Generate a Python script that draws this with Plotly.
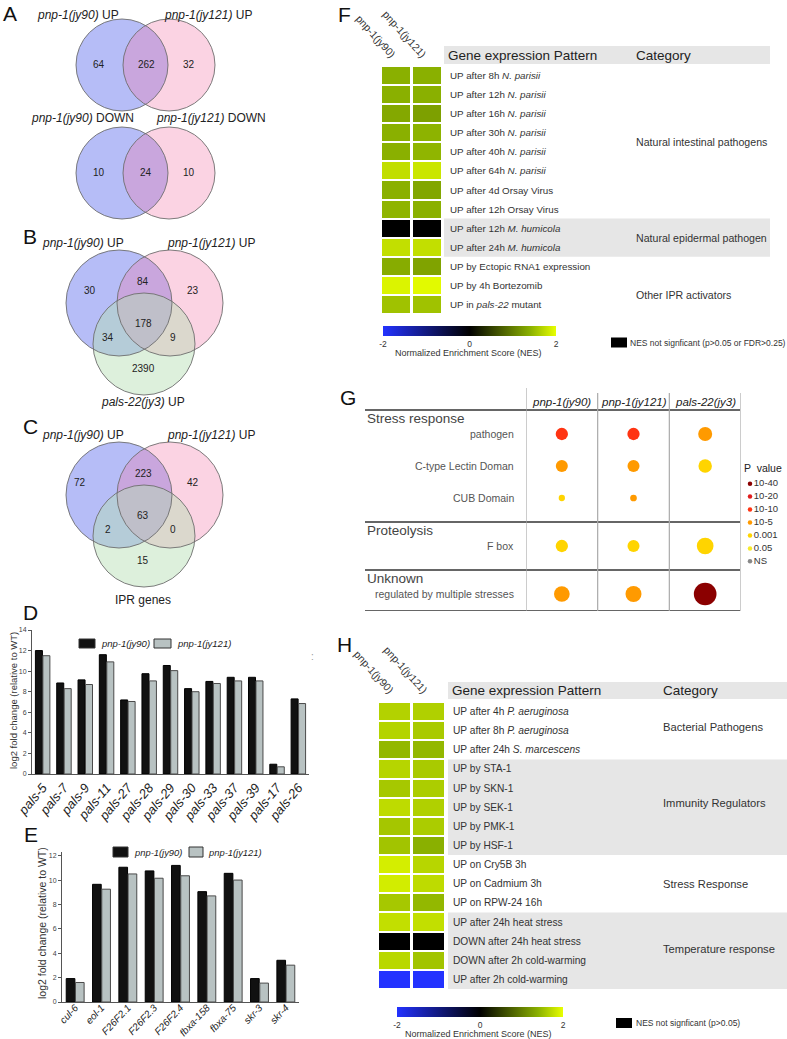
import plotly.graph_objects as go

W, H = 787, 1039
def X(px): return px / W
def Y(py): return 1 - py / H

FONT = "Liberation Sans, Arial, Helvetica, sans-serif"

# ------------------------------------------------------------------ DATA
VENN_A_UP = [64, 262, 32]              # jy90 only, both, jy121 only
VENN_A_DOWN = [10, 24, 10]
# order: jy90 only, jy90&jy121, jy121 only, all three, jy90&third, jy121&third, third only
VENN_B = [30, 84, 23, 178, 34, 9, 2390]
VENN_C = [72, 223, 42, 63, 2, 0, 15]

D_GENES = ["pals-5", "pals-7", "pals-9", "pals-11", "pals-27", "pals-28", "pals-29",
           "pals-30", "pals-33", "pals-37", "pals-39", "pals-17", "pals-26"]
D_JY90 = [12.0, 8.85, 9.15, 11.6, 7.2, 9.75, 10.55, 8.3, 9.0, 9.4, 9.4, 0.95, 7.3]
D_JY121 = [11.5, 8.3, 8.7, 10.9, 7.05, 9.05, 10.05, 8.0, 8.8, 9.05, 9.05, 0.7, 6.85]

E_GENES = ["cul-6", "eol-1", "F26F2.1", "F26F2.3", "F26F2.4", "fbxa-158", "fbxa-75", "skr-3", "skr-4"]
E_JY90 = [1.92, 9.65, 11.05, 10.75, 11.2, 9.05, 10.55, 1.92, 3.42]
E_JY121 = [1.6, 9.25, 10.5, 10.15, 10.35, 8.7, 10.0, 1.55, 3.02]

SERIES = ["pnp-1(jy90)", "pnp-1(jy121)"]

F_PATTERNS = ["UP after 8h <i>N. parisii</i>", "UP after 12h <i>N. parisii</i>",
              "UP after 16h <i>N. parisii</i>", "UP after 30h <i>N. parisii</i>",
              "UP after 40h <i>N. parisii</i>", "UP after 64h <i>N. parisii</i>",
              "UP after 4d Orsay Virus", "UP after 12h Orsay Virus",
              "UP after 12h <i>M. humicola</i>", "UP after 24h <i>M. humicola</i>",
              "UP by Ectopic RNA1 expression", "UP by 4h Bortezomib",
              "UP in <i>pals-22</i> mutant"]
F_NES_JY90 = [1.40, 1.40, 1.34, 1.40, 1.40, 1.75, 1.40, 1.43, 0.0, 1.76, 1.37, 1.92, 1.54]
F_NES_JY121 = [1.40, 1.40, 1.27, 1.42, 1.44, 1.81, 1.32, 1.40, 0.0, 1.76, 1.30, 1.96, 1.54]
F_SIGNIFICANT = [1, 1, 1, 1, 1, 1, 1, 1, 0, 1, 1, 1, 1]
F_CATEGORIES = ["Natural intestinal pathogens", "Natural epidermal pathogen", "Other IPR activators"]
F_CAT_SPANS = [(0, 7), (8, 9), (10, 12)]

H_PATTERNS = ["UP after 4h <i>P. aeruginosa</i>", "UP after 8h <i>P. aeruginosa</i>",
              "UP after 24h <i>S. marcescens</i>", "UP by STA-1", "UP by SKN-1", "UP by SEK-1",
              "UP by PMK-1", "UP by HSF-1", "UP on Cry5B 3h", "UP on Cadmium 3h",
              "UP on RPW-24 16h", "UP after 24h heat stress", "DOWN after 24h heat stress",
              "DOWN after 2h cold-warming", "UP after 2h cold-warming"]
H_NES_JY90 = [1.66, 1.67, 1.46, 1.68, 1.58, 1.73, 1.57, 1.55, 1.87, 1.86, 1.58, 1.76, 0.0, 1.70, -2.0]
H_NES_JY121 = [1.64, 1.60, 1.46, 1.60, 1.62, 1.64, 1.61, 1.40, 1.69, 1.73, 1.46, 1.76, 0.0, 1.55, -2.0]
H_SIGNIFICANT = [1, 1, 1, 1, 1, 1, 1, 1, 1, 1, 1, 1, 0, 1, 1]
H_CATEGORIES = ["Bacterial Pathogens", "Immunity Regulators", "Stress Response", "Temperature response"]
H_CAT_SPANS = [(0, 2), (3, 7), (8, 10), (11, 14)]

G_COLUMNS = ["pnp-1(jy90)", "pnp-1(jy121)", "pals-22(jy3)"]
G_SECTIONS = ["Stress response", "Proteolysis", "Unknown"]
G_ROWS = ["pathogen", "C-type Lectin Doman", "CUB Domain", "F box", "regulated by multiple stresses"]
G_ROW_SECTION = [0, 0, 0, 1, 2]
P_LEVELS = ["10-40", "10-20", "10-10", "10-5", "0.001", "0.05", "NS"]
G_PLEVEL = [[2, 2, 3], [3, 3, 4], [4, 3, None], [4, 4, 4], [3, 3, 0]]
G_SIZE = [[12.3, 12.3, 14.0], [12.0, 12.0, 13.5], [6.3, 6.7, None], [12.3, 12.0, 16.7], [15.7, 16.0, 22.7]]

# ------------------------------------------------------------------ STYLE
P_COLORS = ["#8b0000", "#e01d1d", "#ff3412", "#ff9a00", "#ffd400", "#f6ea2c", "#888888"]
NES_SCALE = [[0.0, "rgb(35,50,255)"], [0.5, "rgb(0,0,0)"], [0.85, "rgb(138,176,0)"], [1.0, "rgb(232,255,0)"]]
BLUE = "rgba(109,123,239,0.5)"
PINK = "rgba(242,117,168,0.32)"
GREEN = "rgba(180,222,178,0.45)"
BLACK_FILL, GREY_FILL = "#111111", "#b8c2c2"

fig = go.Figure()
shapes = []
annotations = []


def txt(text, x, y, size=10, xa="center", ya="middle", color="#222", xref="paper", yref="paper",
        angle=0, **kw):
    annotations.append(dict(text=text, x=X(x) if xref == "paper" else x,
                            y=Y(y) if yref == "paper" else y, xref=xref, yref=yref,
                            xanchor=xa, yanchor=ya, showarrow=False, textangle=angle,
                            font=dict(size=size, color=color, family=FONT), **kw))


def circle(cx, cy, r, fill=None, line=None):
    shapes.append(dict(type="circle", xref="paper", yref="paper", x0=X(cx - r), x1=X(cx + r),
                       y0=Y(cy + r), y1=Y(cy - r), fillcolor=fill or "rgba(0,0,0,0)",
                       line=dict(color=line or "rgba(0,0,0,0)", width=0.9 if line else 0),
                       layer="below"))


def venn(circles, fills, counts, positions):
    for (cx, cy, r), f in zip(circles, fills):
        circle(cx, cy, r, fill=f)
    for cx, cy, r in circles:
        circle(cx, cy, r, line="#6e6e6e")
    for c, (px, py) in zip(counts, positions):
        txt(str(c), px, py, size=10)


# ---------------- Panel A / B / C (Venn diagrams)
venn([(122, 65, 46), (169, 65, 46)], [BLUE, PINK], VENN_A_UP, [(99, 65), (146, 65), (189, 65)])
venn([(122, 173, 46), (169, 173, 46)], [BLUE, PINK], VENN_A_DOWN, [(99, 173), (146, 173), (189, 173)])
venn([(119, 303, 53), (170, 303, 53), (144, 344, 51)], [BLUE, PINK, GREEN], VENN_B,
     [(90, 290), (143, 281), (193, 290), (143, 324), (108, 337), (173, 337), (143, 369)])
venn([(119, 495, 53), (170, 495, 53), (144, 536, 51)], [BLUE, PINK, GREEN], VENN_C,
     [(80, 482), (143, 473), (193, 482), (143, 515), (108, 529), (173, 529), (143, 560)])

txt("<i>pnp-1(jy90)</i> UP", 78, 15, 12)
txt("<i>pnp-1(jy121)</i> UP", 208, 15, 12)
txt("<i>pnp-1(jy90)</i> DOWN", 82, 118, 12)
txt("<i>pnp-1(jy121)</i> DOWN", 211, 118, 12)
txt("<i>pnp-1(jy90)</i> UP", 83, 243, 12)
txt("<i>pnp-1(jy121)</i> UP", 211, 243, 12)
txt("<i>pals-22(jy3)</i> UP", 143, 402, 12)
txt("<i>pnp-1(jy90)</i> UP", 83, 435, 12)
txt("<i>pnp-1(jy121)</i> UP", 211, 435, 12)
txt("IPR genes", 143, 600, 12)

for letter, (lx, ly) in {"A": (10, 14), "B": (30, 236), "C": (30, 427), "D": (30, 612),
                         "E": (31, 834), "F": (344, 15), "G": (348, 398), "H": (344, 644)}.items():
    txt(letter, lx, ly, 21, color="#111")

# ---------------- Panel D / E (bar charts)
BLACK_BAR = dict(color=BLACK_FILL, line=dict(color="#000000", width=1))
GREY_BAR = dict(color=GREY_FILL, line=dict(color="#4a4a4a", width=1))
fig.add_trace(go.Bar(x=D_GENES, y=D_JY90, name=SERIES[0], marker=BLACK_BAR,
                     xaxis="x", yaxis="y", showlegend=False))
fig.add_trace(go.Bar(x=D_GENES, y=D_JY121, name=SERIES[1], marker=GREY_BAR,
                     xaxis="x", yaxis="y", showlegend=False))
fig.add_trace(go.Bar(x=E_GENES, y=E_JY90, name=SERIES[0], marker=BLACK_BAR,
                     xaxis="x2", yaxis="y2", showlegend=False))
fig.add_trace(go.Bar(x=E_GENES, y=E_JY121, name=SERIES[1], marker=GREY_BAR,
                     xaxis="x2", yaxis="y2", showlegend=False))


def bar_legend(items, size):
    for (bx0, bx1, by0, by1, tx, ty), name, fill in zip(items, SERIES, [BLACK_FILL, GREY_FILL]):
        shapes.append(dict(type="rect", xref="paper", yref="paper", x0=X(bx0), x1=X(bx1),
                           y0=Y(by1), y1=Y(by0), fillcolor=fill,
                           line=dict(color="#333", width=1)))
        txt("<i>%s</i>" % name, tx, ty, size, xa="left")


bar_legend([(79, 95, 639, 648, 99, 643.5), (154, 171, 639, 648, 175, 643.5)], 9.5)
bar_legend([(113, 128, 847, 857, 132, 852), (189, 203, 847, 857, 206, 852)], 9.4)

txt("log2 fold change (relative to WT)", 13, 701, 9.5, angle=-90, color="#333")
txt("log2 fold change (relative to WT)", 42, 923, 10.5, angle=-90, color="#333")
txt(":", 312, 656, 10, color="#999")

# ---------------- Panel F / H (heatmaps)
def heat_z(a, b, sig):
    return [[a[i] if sig[i] else 0.0, b[i] if sig[i] else 0.0] for i in range(len(a))]


def colorbar(x0, y_top, length):
    return dict(orientation="h", x=X(x0), xanchor="left", y=Y(y_top), yanchor="top",
                len=length, lenmode="pixels", thickness=10, thicknessmode="pixels",
                outlinewidth=0, tickvals=[-2, 0, 2], ticktext=["-2", "0", "2"], ticks="",
                tickfont=dict(size=8.5, family=FONT, color="#333"), xpad=0, ypad=0)


fig.add_trace(go.Heatmap(z=heat_z(F_NES_JY90, F_NES_JY121, F_SIGNIFICANT), x=[0, 1],
                         y=list(range(len(F_PATTERNS))), colorscale=NES_SCALE, zmin=-2, zmax=2,
                         xgap=3, ygap=2, xaxis="x3", yaxis="y3", hoverinfo="skip",
                         colorbar=colorbar(383, 326, 173)))
fig.add_trace(go.Heatmap(z=heat_z(H_NES_JY90, H_NES_JY121, H_SIGNIFICANT), x=[0, 1],
                         y=list(range(len(H_PATTERNS))), colorscale=NES_SCALE, zmin=-2, zmax=2,
                         xgap=3, ygap=2, xaxis="x4", yaxis="y4", hoverinfo="skip",
                         colorbar=colorbar(397, 1007, 166)))

GREY_BG = "#e6e6e6"


def heat_panel(patterns, cats, spans, shaded, yref, xref, hdr_y, x_band0, x_band1, lab_x, cat_x,
               lab_size, cat_size, cat_rows, head_y):
    shapes.append(dict(type="rect", xref="paper", yref="paper", x0=X(x_band0), x1=X(x_band1),
                       y0=Y(hdr_y[1]), y1=Y(hdr_y[0]), fillcolor=GREY_BG, line=dict(width=0),
                       layer="below"))
    for k in shaded:
        s0, s1 = spans[k]
        shapes.append(dict(type="rect", xref="paper", yref=yref, x0=X(x_band0), x1=X(x_band1),
                           y0=s0 - 0.5, y1=s1 + 0.5, fillcolor=GREY_BG, line=dict(width=0),
                           layer="below"))
    txt("Gene expression Pattern", x_band0 + 2, (hdr_y[0] + hdr_y[1]) / 2, 13.5, xa="left", color="#222")
    txt("Category", cat_x, (hdr_y[0] + hdr_y[1]) / 2, 13.5, xa="left", color="#222")
    for i, p in enumerate(patterns):
        txt(p, lab_x, i, lab_size, xa="left", yref=yref, color="#333")
    for c, r in zip(cats, cat_rows):
        txt(c, cat_x, r, cat_size, xa="left", yref=yref, color="#333")
    for j, s in enumerate(SERIES):
        txt(s, j, head_y, 10.5, xa="right", ya="bottom", xref=xref, angle=48, color="#333", xshift=4)


heat_panel(F_PATTERNS, F_CATEGORIES, F_CAT_SPANS, [1], "y3", "x3", (46, 64), 444, 770, 448, 634,
           9.8, 10.6, [3.5, 8.5, 11.5], 63)
heat_panel(H_PATTERNS, H_CATEGORIES, H_CAT_SPANS, [1, 3], "y4", "x4", (682, 699), 448, 787, 451, 661,
           10.2, 11.2, [0.8, 4.8, 9.0, 12.4], 699)

# NES legend boxes + colorbar titles
for (bx, by, tx, text, cx, cy) in [(611, 342.5, 628, "NES not signficant (p>0.05 or FDR>0.25)", 468, 353),
                                   (616, 1023, 634, "NES not signficant (p>0.05)", 478, 1034)]:
    shapes.append(dict(type="rect", xref="paper", yref="paper", x0=X(bx), x1=X(bx + 16),
                       y0=Y(by + 5), y1=Y(by - 5), fillcolor="#000", line=dict(width=0)))
    txt(text, tx, by, 8.5, xa="left", color="#333")
    txt("Normalized Enrichment Score (NES)", cx, cy, 9, color="#333")

# ---------------- Panel G (bubble table)
g_rows_y = [i + 0.5 * s for i, s in enumerate(G_ROW_SECTION)]
gx, gy, gc, gs = [], [], [], []
for i, row in enumerate(G_PLEVEL):
    for j, lev in enumerate(row):
        if lev is None:
            continue
        gx.append(j)
        gy.append(g_rows_y[i])
        gc.append(P_COLORS[lev])
        gs.append(G_SIZE[i][j])
fig.add_trace(go.Scatter(x=gx, y=gy, mode="markers", xaxis="x5", yaxis="y5", showlegend=False,
                         marker=dict(color=gc, size=gs, line=dict(width=0), opacity=1),
                         hoverinfo="skip"))

# P value legend
fig.add_trace(go.Scatter(x=[4] * len(P_LEVELS), y=P_LEVELS, mode="markers+text", text=P_LEVELS,
                         textposition="middle right", xaxis="x6", yaxis="y6", showlegend=False,
                         textfont=dict(size=9.5, family=FONT, color="#333"),
                         marker=dict(color=P_COLORS, size=4.5), hoverinfo="skip"))
txt("P  value", 742, 468, 10.5, xa="left", color="#222")

for j, c in enumerate(G_COLUMNS):
    txt("<i>%s</i>" % c, j, 402, 11.5, xref="x5", color="#222")
sec_first = {}
for i, s in enumerate(G_ROW_SECTION):
    sec_first.setdefault(s, g_rows_y[i])
for s, name in enumerate(G_SECTIONS):
    txt(name, 365, sec_first[s] - 0.47, 13.5, xa="left", yref="y5", color="#444")
    shapes.append(dict(type="line", xref="paper", yref="y5", x0=X(365), x1=X(740),
                       y0=sec_first[s] - 0.75, y1=sec_first[s] - 0.75,
                       line=dict(color="#333", width=1.6)))
for i, r in enumerate(G_ROWS):
    txt(r, 516, g_rows_y[i], 10.5, xa="right", yref="y5", color="#555")
G_BOTTOM = g_rows_y[-1] + 0.53
shapes.append(dict(type="line", xref="paper", yref="y5", x0=X(365), x1=X(740), y0=G_BOTTOM, y1=G_BOTTOM,
                   line=dict(color="#333", width=1.6)))
for k, xv in enumerate([-0.5, 0.5, 1.5, 2.5]):
    shapes.append(dict(type="line", xref="x5", yref="paper", x0=xv, x1=xv,
                       y0=Y(611), y1=Y(388 if k == 0 else 393), line=dict(color="#aaaaaa", width=1.2)))

# ------------------------------------------------------------------ LAYOUT
hidden = dict(visible=False, showgrid=False, zeroline=False, fixedrange=True, automargin=False)
bar_y = dict(showgrid=False, zeroline=False, showline=True, linecolor="#555", linewidth=1,
             ticks="outside", ticklen=3, tickcolor="#555", tickfont=dict(size=7, color="#444", family=FONT),
             dtick=2, fixedrange=True, automargin=False)
bar_x = dict(showgrid=False, zeroline=False, showline=True, linecolor="#555", linewidth=1, ticks="",
             fixedrange=True, type="category", automargin=False)

fig.update_layout(
    width=W, height=H, margin=dict(l=0, r=0, t=0, b=0, autoexpand=False),
    paper_bgcolor="white", plot_bgcolor="rgba(0,0,0,0)",
    font=dict(family=FONT, color="#222"),
    barmode="group", bargap=0.3, bargroupgap=0.06,
    xaxis=dict(bar_x, domain=[X(32), X(309)], anchor="y", tickangle=-50,
               tickvals=D_GENES, ticktext=["<i>%s</i>" % g for g in D_GENES],
               tickfont=dict(size=13, family=FONT, color="#222")),
    yaxis=dict(bar_y, domain=[Y(774), Y(630)], range=[0, 14], anchor="x"),
    xaxis2=dict(bar_x, domain=[X(62), X(299)], anchor="y2", tickangle=-47, ticklabelstandoff=-5,
                tickvals=E_GENES, ticktext=["<i>%s</i>" % g for g in E_GENES],
                tickfont=dict(size=10, family=FONT, color="#222")),
    yaxis2=dict(bar_y, domain=[Y(1002), Y(852)], range=[0, 12.3], anchor="x2", tickvals=[0, 2, 4, 6, 8, 10, 12]),
    xaxis3=dict(hidden, domain=[X(381), X(443)], range=[-0.5, 1.5], anchor="y3"),
    yaxis3=dict(hidden, domain=[Y(314), Y(66)], range=[12.5, -0.5], anchor="x3"),
    xaxis4=dict(hidden, domain=[X(378), X(446)], range=[-0.5, 1.5], anchor="y4"),
    yaxis4=dict(hidden, domain=[Y(989), Y(702)], range=[14.5, -0.5], anchor="x4"),
    xaxis5=dict(hidden, domain=[X(526), X(741)], range=[-0.5, 2.5], anchor="y5"),
    yaxis5=dict(hidden, domain=[Y(611), Y(388)], range=[(611 - 434) / 32, -(434 - 388) / 32], anchor="x5"),
    xaxis6=dict(hidden, domain=[X(746), X(787)], range=[0, 41], anchor="y6"),
    yaxis6=dict(hidden, domain=[Y(569), Y(476)], type="category", categoryorder="array",
                categoryarray=P_LEVELS[::-1], anchor="x6"),
    shapes=shapes, annotations=annotations,
)

fig.write_html("out.html", config={"displayModeBar": False},
               post_script="document.body.style.margin='0px';")
